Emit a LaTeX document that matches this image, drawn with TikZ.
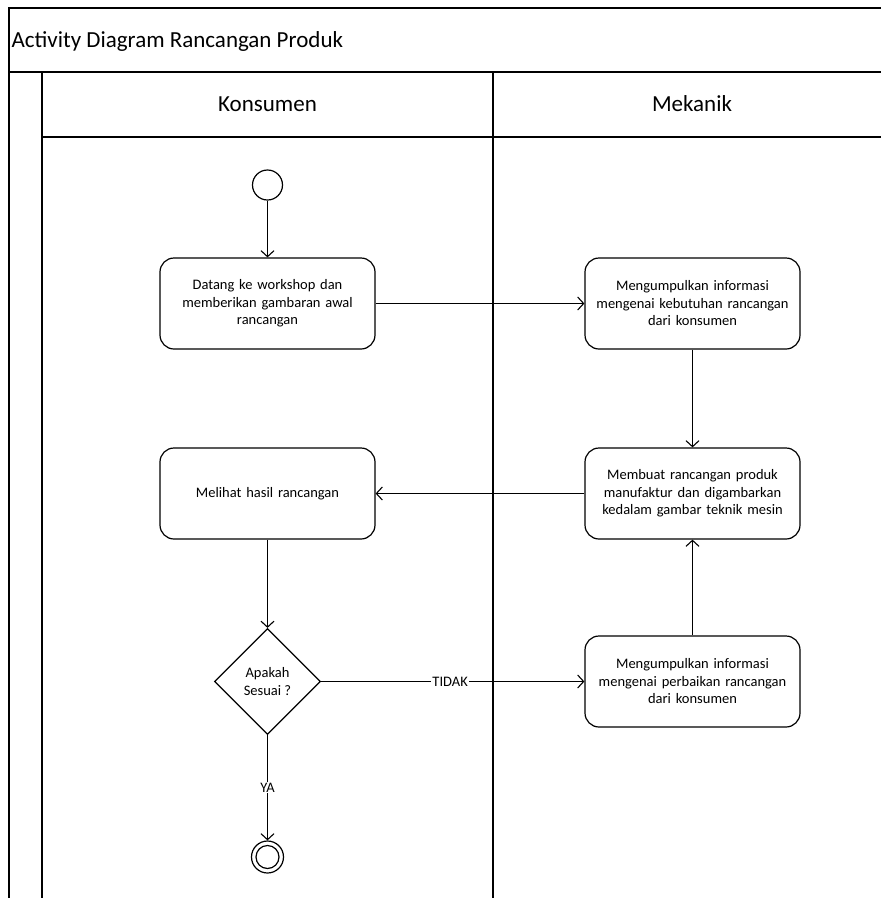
\documentclass[tikz,border=0pt]{standalone}
\usepackage{fontspec}
\setmainfont{Carlito}
\usetikzlibrary{arrows.meta,shapes.geometric}
\begin{document}
\begin{tikzpicture}[x=1pt,y=-1pt, line width=1.2pt,
 act/.style={draw, rounded corners=14pt, minimum width=215pt, minimum height=91pt, text width=209pt, align=center, font=\fontsize{14.5}{17.5}\selectfont, inner sep=2pt},
 flow/.style={-{Straight Barb[length=6pt,width=13pt]}, line width=1.1pt},
 lbl/.style={fill=white, font=\fontsize{14.5}{17.5}\selectfont, inner sep=1pt},
 hdr/.style={font=\fontsize{23}{27}\selectfont, inner sep=0pt}]
\useasboundingbox (0,0) rectangle (881,898);
% frame
\draw (9,898) -- (9,8) -- (881,8);
\draw (9,72) -- (881,72);
\draw (42,898) -- (42,72);
\draw (42,137) -- (881,137);
\draw (493,72) -- (493,898);
\node[hdr, anchor=west] (title) at (11,41) {Activity Diagram Rancangan Produk};
\node[hdr] (k) at (267.5,104) {Konsumen};
\node[hdr] (m) at (692,104) {Mekanik};
% nodes
\node[draw, circle, minimum size=30pt, inner sep=0pt] (start) at (267.5,185) {};
\node[act] (n1) at (267.5,303.5) {Datang ke workshop dan\\memberikan gambaran awal\\rancangan};
\node[act] (n2) at (692.5,303.5) {Mengumpulkan informasi\\mengenai kebutuhan rancangan\\dari konsumen};
\node[act] (n3) at (692.5,493.5) {Membuat rancangan produk\\manufaktur dan digambarkan\\kedalam gambar teknik mesin};
\node[act] (n4) at (267.5,493.5) {Melihat hasil rancangan};
\node[draw, diamond, minimum width=106pt, minimum height=106pt, inner sep=0pt, align=center, font=\fontsize{14.5}{17.5}\selectfont] (dec) at (267.5,681.5) {Apakah\\Sesuai ?};
\node[act] (n5) at (692.5,681.5) {Mengumpulkan informasi\\mengenai perbaikan rancangan\\dari konsumen};
\node[draw, circle, minimum size=32pt, inner sep=0pt] (end) at (267.5,857) {};
\node[draw, circle, minimum size=23pt, inner sep=0pt] (endin) at (267.5,857) {};
% connectors
\draw[flow] (start) -- (n1);
\draw[flow] (n1) -- (n2);
\draw[flow] (n2) -- (n3);
\draw[flow] (n3) -- (n4);
\draw[flow] (n4) -- (dec);
\draw[flow] (dec) -- node[lbl, pos=0.49] (tidak) {TIDAK} (n5);
\draw[flow] (n5) -- (n3);
\draw[flow] (dec) -- node[lbl] (ya) {YA} (end);
\end{tikzpicture}
\end{document}
